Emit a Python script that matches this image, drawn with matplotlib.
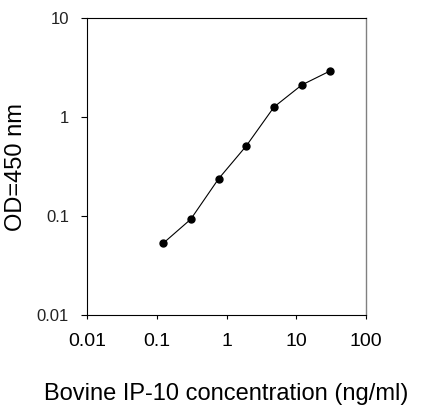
import matplotlib
matplotlib.use("Agg")
import matplotlib.pyplot as plt

plt.rcParams["font.family"] = ["Liberation Sans", "DejaVu Sans"]

# standard curve, 2.5-fold dilutions
conc = [0.123, 0.307, 0.768, 1.92, 4.8, 12, 30]
od450 = [0.053, 0.093, 0.238, 0.513, 1.27, 2.12, 2.92]

xticks = [0.01, 0.1, 1, 10, 100]
xticklabels = ["0.01", "0.1", "1", "10", "100"]
yticks = [0.01, 0.1, 1, 10]
yticklabels = ["0.01", "0.1", "1", "10"]

fig = plt.figure(figsize=(4.21, 4.19), dpi=100)
ax = fig.add_axes([0.2067, 0.2482, 0.6627, 0.708])

ax.plot(conc, od450, color="black", linewidth=0.8, marker="o",
        markersize=5, markerfacecolor="black", markeredgecolor="black")

ax.set_xscale("log")
ax.set_yscale("log")
ax.set_xlim(0.01, 100)
ax.set_ylim(0.01, 10)

ax.set_xticks(xticks)
ax.set_xticklabels(xticklabels, fontsize=14)
ax.set_yticks(yticks)
ax.set_yticklabels(yticklabels, fontsize=12, color="#222222")
ax.minorticks_off()
ax.tick_params(axis="x", direction="out", length=3, width=0.8, pad=10)
ax.tick_params(axis="y", direction="out", length=4, width=0.8, pad=9)

for side in ["left", "bottom", "top"]:
    ax.spines[side].set_color("black")
    ax.spines[side].set_linewidth(0.8)
ax.spines["right"].set_color("#808080")
ax.spines["right"].set_linewidth(1.0)

ax.set_xlabel("Bovine IP-10 concentration (ng/ml)", fontsize=17, labelpad=24)
ax.set_ylabel("OD=450 nm", fontsize=17)
ax.yaxis.set_label_coords(-0.215, 0.5)

fig.savefig("out.png", dpi=100)
